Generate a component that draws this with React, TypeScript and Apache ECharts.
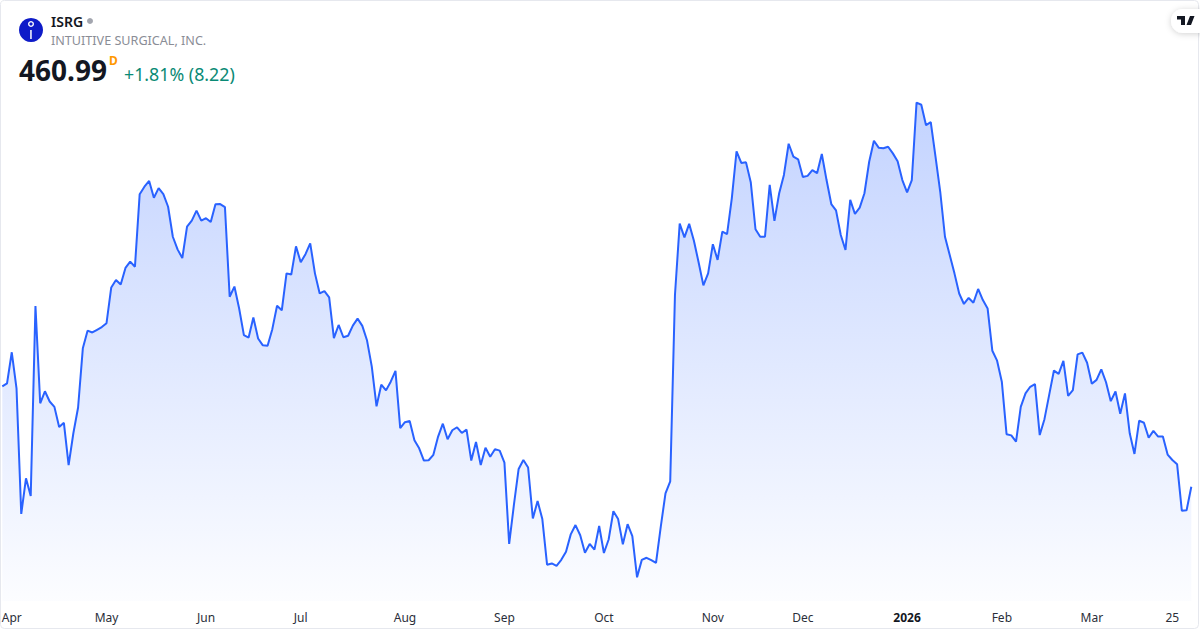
import React, { useEffect, useRef } from "react";
import * as echarts from "echarts";

const symbol = "ISRG";
const companyName = "INTUITIVE SURGICAL, INC.";
const lastPrice = "460.99";
const changeText = "+1.81% (8.22)";

const closes: number[] = [
  494.4, 495.4, 505.8, 493.8, 451.9, 463.8, 457.9, 521.2, 488.8, 492.8, 489.4, 487.6, 480.9, 482.3, 468.2, 478.8,
  487.4, 507.1, 513.0, 512.4, 513.3, 514.2, 515.5, 527.4, 529.9, 528.4, 533.9, 536.0, 534.3, 558.5, 561.0, 562.9,
  557.3, 560.5, 558.5, 554.3, 544.3, 540.1, 537.2, 547.7, 549.7, 553.0, 549.7, 550.5, 549.2, 555.1, 555.2, 554.2,
  524.3, 527.7, 520.4, 511.5, 510.7,
  517.4, 510.4, 508.1, 508.0, 513.5, 521.3, 519.8, 532.1, 531.7, 541.1, 535.8, 538.5, 542.1, 532.1, 525.4, 526.2,
  524.1, 510.5, 514.9, 510.8, 511.3, 514.7, 517.0, 514.6, 509.7, 501.0, 487.8, 495.0, 493.1, 496.0, 499.6, 480.5,
  482.5, 482.9, 476.5, 473.8, 469.7, 469.8, 471.6, 477.7, 482.0, 476.8, 479.8, 480.8, 478.9, 480.0, 469.7, 475.9,
  468.2, 474.0,
  471.0, 473.5, 473.0, 469.0, 441.9, 454.9, 466.9, 469.9, 467.4, 450.4, 456.2, 450.2, 435.0, 435.4, 434.6, 436.6,
  439.3, 445.1, 448.2, 444.8, 439.0, 441.9, 440.0, 447.9, 438.9, 443.4, 452.8, 450.2, 441.8, 448.5, 444.5, 430.8,
  436.6, 437.3, 436.5, 435.6, 447.6, 458.8, 462.8, 524.9,
  548.7, 544.1, 548.6, 543.0, 535.7, 528.1, 532.1, 541.8, 536.6, 546.0, 545.2, 557.1, 572.8, 568.9, 569.1, 562.5,
  546.8, 544.3, 544.3, 561.6, 549.6, 558.8, 564.9, 575.3, 571.0, 570.1, 564.2, 564.6, 566.5, 565.5, 571.9, 563.2,
  555.2, 553.1, 544.9, 539.9, 556.6, 551.9, 554.0, 558.8, 569.3, 576.3, 574.0, 573.8, 574.3, 572.1, 569.5,
  563.2, 559.1, 563.2, 589.0, 588.3, 581.5, 582.5, 571.0, 559.3, 544.3, 538.2, 532.1, 525.4, 521.9, 523.9, 522.3,
  526.9, 523.2, 520.4, 506.3, 503.0, 496.0, 478.5, 478.1, 476.0, 487.6, 492.1, 494.3, 495.2, 478.2,
  483.5, 491.6, 499.7, 498.6, 502.9, 491.3, 493.2, 505.1, 505.7, 502.3, 495.3, 496.6, 500.1, 495.8, 489.5, 492.7,
  485.3, 492.1, 478.8, 471.9, 483.0, 482.3, 477.3, 479.6, 477.7, 477.7, 471.7, 469.9, 468.5, 453.0, 453.1, 460.99,
];

const tickIndex: number[] = [2, 22, 43, 63, 85, 106, 127, 150, 169, 191, 211, 230, 247];
const tickText: string[] = ["Apr", "May", "Jun", "Jul", "Aug", "Sep", "Oct", "Nov", "Dec", "2026", "Feb", "Mar", "25"];

const categories = closes.map((_, i) => {
  const t = tickIndex.indexOf(i);
  return t >= 0 ? tickText[t] : String(i);
});

const BLUE = "#2962FF";

echarts.graphic.registerShape(
  "tvLogo",
  echarts.graphic.extendPath("M0 0H8V9H4V3.4H0Z M13 0H17.5L14 9H9.5Z", {}) as any,
);

export default function App() {
  const ref = useRef<HTMLDivElement>(null);
  useEffect(() => {
    document.body.style.margin = "0";
    const chart = echarts.init(ref.current!, undefined, { renderer: "svg" });
    const font = "'Noto Sans', 'Open Sans', sans-serif";
    chart.setOption({
      animation: false,
      backgroundColor: "#ffffff",
      grid: { left: 2.3, top: 0, width: 1189, height: 601, containLabel: false, outerBoundsMode: "none" },
      xAxis: {
        type: "category",
        data: categories,
        boundaryGap: false,
        axisLine: { show: false },
        axisTick: { show: false },
        splitLine: { show: false },
        axisLabel: {
          interval: (i: number) => tickIndex.includes(i),
          hideOverlap: false,
          margin: 10,
          formatter: (v: string) => (v === "2026" ? "{b|2026}" : v),
          rich: { b: { fontFamily: font, fontSize: 12, fontWeight: 700, color: "#131722" } },
          fontFamily: font,
          fontSize: 12,
          color: "#2a2e39",
        },
      },
      yAxis: { type: "value", min: 422.89, max: 623.22, show: false },
      series: [
        {
          type: "line",
          data: closes,
          symbol: "none",
          smooth: false,
          lineStyle: { color: BLUE, width: 2 },
          areaStyle: {
            opacity: 1,
            color: new echarts.graphic.LinearGradient(0, 0, 0, 1, [
              { offset: 0, color: "rgba(41,98,255,0.28)" },
              { offset: 1, color: "rgba(41,98,255,0.015)" },
            ]),
          },
        },
      ],
      graphic: [
        {
          type: "rect",
          z: 10,
          silent: true,
          shape: { x: 0.5, y: 0.5, width: 1198, height: 628, r: 4 },
          style: { fill: "none", stroke: "#e6e8ee", lineWidth: 1 },
        },
        { type: "circle", z: 20, shape: { cx: 31, cy: 30, r: 12 }, style: { fill: "#0E1BC8" } },
        { type: "ring", z: 21, shape: { cx: 31, cy: 24, r: 3, r0: 1.6 }, style: { fill: "#ffffff" } },
        { type: "rect", z: 21, shape: { x: 30.2, y: 30, width: 1.5, height: 9 }, style: { fill: "#ffffff" } },
        { type: "text", z: 20, x: 51, y: 14, style: { text: symbol, fontFamily: font, fontSize: 14, fontWeight: 600, fill: "#131722" } },
        { type: "circle", z: 20, shape: { cx: 90, cy: 21, r: 3 }, style: { fill: "#a3a6af" } },
        { type: "text", z: 20, x: 51, y: 33.5, style: { text: companyName, fontFamily: font, fontSize: 12.6, fill: "#8a8d96" } },
        { type: "text", z: 20, x: 19, y: 56, style: { text: lastPrice, fontFamily: font, fontSize: 28, fontWeight: 700, fill: "#131722" } },
        { type: "text", z: 20, x: 109, y: 54, style: { text: "D", fontFamily: font, fontSize: 12, fontWeight: 700, fill: "#FF9800" } },
        { type: "text", z: 20, x: 124, y: 65, style: { text: changeText, fontFamily: font, fontSize: 17.8, fill: "#0a8a75" } },
        {
          type: "rect",
          z: 30,
          shape: { x: 1171, y: 9, width: 40, height: 24, r: 12 },
          style: { fill: "#ffffff", shadowBlur: 6, shadowColor: "rgba(0,0,0,0.18)", shadowOffsetY: 1 },
        },
        { type: "tvLogo", z: 31, x: 1177, y: 16, style: { fill: "#131722" } },
      ],
    });
    return () => chart.dispose();
  }, []);
  return <div ref={ref} style={{ width: 1200, height: 630 }} />;
}
